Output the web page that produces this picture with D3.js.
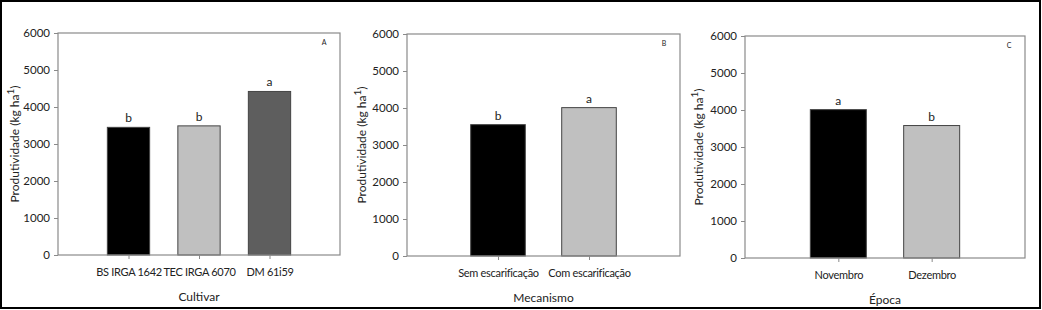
<!DOCTYPE html>
<html>
<head>
<meta charset="utf-8">
<script src="https://cdn.jsdelivr.net/npm/d3@7"></script>
<style>
  body { margin: 0; background: #fff; }
  text { font-family: Lato, "Open Sans", sans-serif; fill: #222; }
</style>
</head>
<body>
<script>
// data
const cultivares = ["BS IRGA 1642", "TEC IRGA 6070", "DM 61i59"];
const cultivarValues = [3450, 3490, 4420];
const cultivarLetters = ["b", "b", "a"];

const mecanismos = ["Sem escarificação", "Com escarificação"];
const mecanismoValues = [3550, 4010];
const mecanismoLetters = ["b", "a"];

const epocas = ["Novembro", "Dezembro"];
const epocaValues = [4010, 3580];
const epocaLetters = ["a", "b"];

const yTicks = [0, 1000, 2000, 3000, 4000, 5000, 6000];
const barColors = ["#000000", "#c0c0c0", "#5e5e5e"];

const W = 1042, H = 310;
const FONT = "Lato, 'Open Sans', sans-serif";

const svg = d3.select("body")
  .append("svg")
    .attr("width", W)
    .attr("height", H);

svg.append("rect")
    .attr("width", W)
    .attr("height", H)
    .attr("fill", "#fff");

// one panel
function drawPanel(box, cats, vals, letters, xTitle, tag) {
  const g = svg.append("g");

  const x = d3.scaleLinear()
      .domain([0, cats.length + 1])
      .range([box.left, box.right]);
  const y = d3.scaleLinear()
      .domain([0, 6000])
      .range([box.bottom, box.top]);

  const bw = x(0.6) - x(0);

  // bars
  g.selectAll(".bar")
    .data(vals)
    .enter()
    .append("rect")
      .attr("x", (d, i) => x(i + 1) - bw / 2)
      .attr("y", d => y(d))
      .attr("width", bw)
      .attr("height", d => y(0) - y(d))
      .attr("fill", (d, i) => barColors[i])
      .attr("stroke", "#444")
      .attr("stroke-width", 1);

  // letters above bars
  g.selectAll(".lt")
    .data(vals)
    .enter()
    .append("text")
      .attr("x", (d, i) => x(i + 1))
      .attr("y", d => y(d) - 5)
      .attr("text-anchor", "middle")
      .attr("font-size", "12px")
      .text((d, i) => letters[i]);

  // frame
  g.append("rect")
      .attr("x", box.left)
      .attr("y", box.top)
      .attr("width", box.right - box.left)
      .attr("height", box.bottom - box.top)
      .attr("fill", "none")
      .attr("stroke", "#8a8a8a")
      .attr("stroke-width", 1.2);

  // y axis
  const ya = g.append("g")
      .attr("transform", `translate(${box.left},0)`)
      .call(d3.axisLeft(y).tickValues(yTicks).tickFormat(d3.format("d"))
        .tickSize(4).tickSizeOuter(0).tickPadding(4));
  ya.select(".domain").remove();
  ya.selectAll("line").attr("stroke", "#8a8a8a");
  ya.selectAll("text").attr("font-size", "11.5px").attr("fill", "#222")
      .attr("font-family", FONT);

  // x axis
  const xa = g.append("g")
      .attr("transform", `translate(0,${box.bottom})`)
      .call(d3.axisBottom(x).tickValues(d3.range(1, cats.length + 1))
        .tickFormat(d => cats[d - 1]).tickSize(4).tickSizeOuter(0).tickPadding(9));
  xa.select(".domain").remove();
  xa.selectAll("line").attr("stroke", "#8a8a8a");
  xa.selectAll("text").attr("font-size", "11px").attr("fill", "#222")
      .attr("font-family", FONT)
      .attr("letter-spacing", "-0.3px");

  // axis titles
  g.append("text")
      .attr("x", (box.left + box.right) / 2)
      .attr("y", box.bottom + 46)
      .attr("text-anchor", "middle")
      .attr("font-size", "12px")
      .text(xTitle);

  const yl = g.append("text")
      .attr("transform", `translate(${box.ylabX},${(box.top + box.bottom) / 2}) rotate(-90)`)
      .attr("text-anchor", "middle")
      .attr("font-size", "12px");
  yl.append("tspan").text("Produtividade (kg ha");
  yl.append("tspan").attr("dy", -5).attr("font-size", "10px").text("1");
  yl.append("tspan").attr("dy", 5).text(")");

  // panel tag
  g.append("text")
      .attr("x", box.right - 16)
      .attr("y", box.top + 12)
      .attr("text-anchor", "middle")
      .attr("font-size", "7px")
      .text(tag);
}

drawPanel({left: 58, right: 340, top: 33, bottom: 255, ylabX: 19},
  cultivares, cultivarValues, cultivarLetters, "Cultivar", "A");
drawPanel({left: 407, right: 680, top: 34, bottom: 256, ylabX: 366},
  mecanismos, mecanismoValues, mecanismoLetters, "Mecanismo", "B");
drawPanel({left: 745, right: 1025, top: 36, bottom: 258, ylabX: 703},
  epocas, epocaValues, epocaLetters, "Época", "C");

// outer border
svg.append("rect")
    .attr("x", 1)
    .attr("y", 1)
    .attr("width", W - 3)
    .attr("height", H - 3)
    .attr("fill", "none")
    .attr("stroke", "#000")
    .attr("stroke-width", 2);
</script>
</body>
</html>
